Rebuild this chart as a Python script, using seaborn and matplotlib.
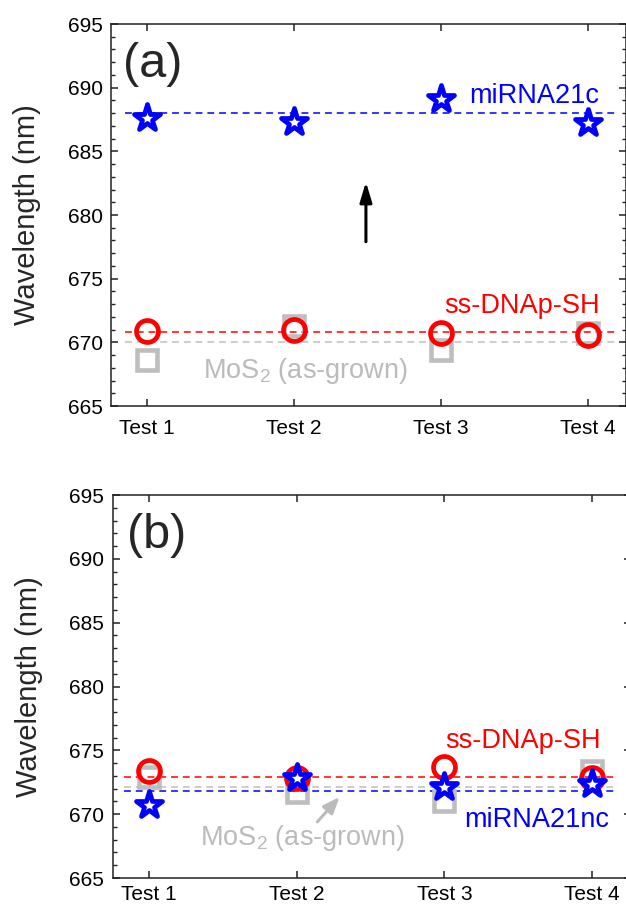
import numpy as np
import pandas as pd
import matplotlib
matplotlib.use("Agg")
import matplotlib.pyplot as plt
from matplotlib.markers import MarkerStyle
from matplotlib.ticker import MultipleLocator, FixedLocator
import seaborn as sns

# ---------------- data ----------------
categories = ["Test 1", "Test 2", "Test 3", "Test 4"]

# panel (a)
a_mos2 = [668.6, 671.3, 669.4, 670.7]
a_ssdna = [670.9, 671.0, 670.75, 670.6]
a_mirna = [687.6, 687.3, 689.1, 687.2]
a_ref_mos2 = 670.0
a_ref_ssdna = 670.8
a_ref_mirna = 688.0

# panel (b)
b_mos2 = [672.9, 671.7, 671.0, 673.35]
b_ssdna = [673.35, 672.85, 673.7, 672.8]
b_mirna = [670.7, 672.8, 672.1, 672.4]
b_ref_mos2 = 672.1
b_ref_ssdna = 672.95
b_ref_mirna = 671.85

yticks = [665, 670, 675, 680, 685, 690, 695]

# ---------------- style ----------------
sns.set_style("ticks")
plt.rcParams["font.family"] = ["Liberation Sans", "DejaVu Sans"]
plt.rcParams["mathtext.default"] = "regular"

BLUE = "#0000FF"
RED = "#FF0000"
GRAY = "#BEBEBE"
GRAYTXT = "#BBBBBB"

fig = plt.figure(figsize=(6.26, 9.05), dpi=100)
W, H = 626.0, 905.0
ax_a = fig.add_axes([111 / W, 1 - 406 / H, 515 / W, 382 / H])
ax_b = fig.add_axes([112.7 / W, 1 - 878 / H, 518 / W, 383 / H])

xpos = np.arange(1, len(categories) + 1)

star = MarkerStyle("*", joinstyle="round")
square = MarkerStyle("s", joinstyle="miter")
circle = MarkerStyle("o")


def series(ax, vals, marker, color, ms, mew, z):
    df = pd.DataFrame({"x": xpos, "y": vals})
    sns.lineplot(data=df, x="x", y="y", ax=ax, marker=marker, linestyle="none",
                 color=color, mec=color, mfc="white" if marker is star else "none",
                 ms=ms, mew=mew, errorbar=None, zorder=z, legend=False)


def panel(ax, mos2, ssdna, mirna, refs, xr, xpad):
    r_mos2, r_ss, r_mi = refs
    ls = (0, (4.5, 3.2))
    ax.hlines(r_mos2, xr[0], xr[1], colors=GRAY, linestyles=ls, lw=1.1, zorder=2)
    ax.hlines(r_ss, xr[0], xr[1], colors=RED, linestyles=ls, lw=1.1, zorder=2)
    ax.hlines(r_mi, xr[0], xr[1], colors=BLUE, linestyles=ls, lw=1.1, zorder=2)
    series(ax, mos2, square, GRAY, 13.7, 3.3, 3)
    series(ax, ssdna, circle, RED, 15.8, 3.4, 4)
    series(ax, mirna, star, BLUE, 19.5, 3.4, 5)

    ax.set_xlim(0.755, 4.26)
    ax.set_ylim(665, 695)
    ax.xaxis.set_major_locator(FixedLocator(xpos))
    ax.set_xticklabels(categories)
    ax.yaxis.set_major_locator(FixedLocator(yticks))
    ax.yaxis.set_minor_locator(MultipleLocator(1))
    ax.tick_params(axis="both", which="both", direction="in", top=True, right=True,
                   colors="#222222", labelcolor="black", labelsize=15)
    ax.tick_params(axis="y", which="major", length=5, width=1.1, pad=6)
    ax.tick_params(axis="y", which="minor", length=3, width=1.0)
    ax.tick_params(axis="x", which="major", length=5, width=1.1, pad=xpad)
    ax.tick_params(axis="x", which="minor", top=False, bottom=False)
    for s in ax.spines.values():
        s.set_visible(True)
        s.set_linewidth(1.1)
        s.set_color("#222222")
    ax.set_xlabel("")
    ax.set_ylabel("Wavelength (nm)", fontsize=21, labelpad=19)


panel(ax_a, a_mos2, a_ssdna, a_mirna, (a_ref_mos2, a_ref_ssdna, a_ref_mirna), (0.85, 4.2), 9)
panel(ax_b, b_mos2, b_ssdna, b_mirna, (b_ref_mos2, b_ref_ssdna, b_ref_mirna), (0.83, 4.17), 5)

# annotations panel (a)
ax_a.text(0.837, 690.8, "(a)", fontsize=35, ha="left", va="baseline")
ax_a.text(4.08, 688.8, "miRNA21c", color=BLUE, fontsize=19.5, ha="right", va="baseline")
ax_a.text(4.08, 672.3, "ss-DNAp-SH", color=RED, fontsize=19.5, ha="right", va="baseline")
ax_a.text(1.38, 667.2, "MoS$_2$ (as-grown)", color=GRAYTXT, fontsize=19.5, ha="left", va="baseline")
ax_a.annotate("", xy=(2.49, 682.6), xytext=(2.49, 677.9),
              arrowprops=dict(arrowstyle="-|>,head_length=0.6,head_width=0.18",
                              lw=2.2, color="black", mutation_scale=20,
                              shrinkA=0, shrinkB=0))

# annotations panel (b)
ax_b.text(0.85, 690.85, "(b)", fontsize=35, ha="left", va="baseline")
ax_b.text(4.06, 675.2, "ss-DNAp-SH", color=RED, fontsize=19.5, ha="right", va="baseline")
ax_b.text(4.115, 669.0, "miRNA21nc", color=BLUE, fontsize=19.5, ha="right", va="baseline")
ax_b.text(1.343, 667.6, "MoS$_2$ (as-grown)", color=GRAYTXT, fontsize=19.5, ha="left", va="baseline")
ax_b.annotate("", xy=(2.29, 671.35), xytext=(2.14, 669.4),
              arrowprops=dict(arrowstyle="-|>,head_length=0.55,head_width=0.22",
                              lw=2.2, color=GRAYTXT, mutation_scale=18,
                              shrinkA=0, shrinkB=0))

fig.savefig("out.png", dpi=100)
